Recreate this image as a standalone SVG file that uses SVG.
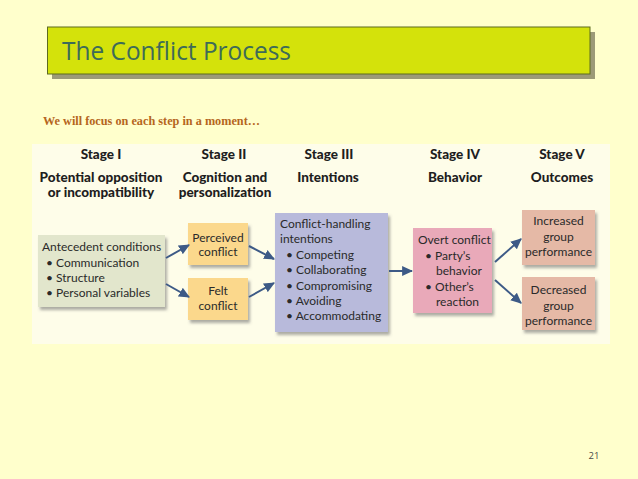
<svg xmlns="http://www.w3.org/2000/svg" width="638" height="479" viewBox="0 0 638 479">
  <defs>
    <style>
      .hdr { font-family: Lato, "Liberation Sans", sans-serif; font-weight: 900; font-size: 13.5px; fill: #1e1e1e; text-anchor: middle; }
      .txt { font-family: Lato, "Liberation Sans", sans-serif; font-weight: 400; font-size: 12px; fill: #2a2a2a; }
      .ctr { text-anchor: middle; }
      .box { filter: url(#sh); }
      .conn { stroke: #3d5a86; stroke-width: 2; fill: none; marker-end: url(#ah); }
    </style>
    <filter id="sh" x="-10%" y="-10%" width="130%" height="130%">
      <feDropShadow dx="2" dy="3" stdDeviation="1.6" flood-color="#6a6a6a" flood-opacity="0.55"/>
    </filter>
    <marker id="ah" viewBox="0 0 10 10" refX="9" refY="5" markerWidth="5.5" markerHeight="5.5" orient="auto" markerUnits="strokeWidth">
      <path d="M0,0.5 L10,5 L0,9.5 z" fill="#3d5a86"/>
    </marker>
  </defs>

  <rect x="0" y="0" width="638" height="479" fill="#ffffcc"/>

  <g id="title">
    <rect x="52" y="32" width="543" height="47" fill="#9c9a78"/>
    <rect x="47.5" y="27" width="542.5" height="47" fill="#d4e20b" stroke="#5d6a1f" stroke-width="1"/>
    <text x="62" y="60" font-family="'Open Sans', 'Noto Sans', sans-serif" font-size="25" fill="#3d6b58" textLength="229" lengthAdjust="spacingAndGlyphs">The Conflict Process</text>
  </g>

  <text id="subtitle" x="43" y="125" font-family="'Liberation Serif', serif" font-weight="700" font-size="11.5" fill="#b5661d" textLength="217" lengthAdjust="spacingAndGlyphs">We will focus on each step in a moment…</text>

  <rect id="panel" x="32" y="144" width="578" height="200" fill="#fefde9"/>

  <g id="headers">
    <text class="hdr" x="101" y="159">Stage I</text>
    <text class="hdr" x="101" y="182">Potential opposition</text>
    <text class="hdr" x="101" y="197">or incompatibility</text>
    <text class="hdr" x="224" y="159">Stage II</text>
    <text class="hdr" x="225" y="182">Cognition and</text>
    <text class="hdr" x="225" y="197">personalization</text>
    <text class="hdr" x="329" y="159">Stage III</text>
    <text class="hdr" x="328" y="182">Intentions</text>
    <text class="hdr" x="455" y="159">Stage IV</text>
    <text class="hdr" x="455" y="182">Behavior</text>
    <text class="hdr" x="562" y="159">Stage V</text>
    <text class="hdr" x="562" y="182">Outcomes</text>
  </g>

  <g id="antecedent">
    <rect class="box" x="38" y="235" width="127" height="72" fill="#e2e6cc"/>
    <text class="txt" x="42" y="251">Antecedent conditions</text>
    <text class="txt" x="46" y="266.5">• Communication</text>
    <text class="txt" x="46" y="281.5">• Structure</text>
    <text class="txt" x="46" y="297">• Personal variables</text>
  </g>

  <g id="perceived">
    <rect class="box" x="188" y="223" width="60" height="42" fill="#fbd88c"/>
    <text class="txt ctr" x="218" y="241.5">Perceived</text>
    <text class="txt ctr" x="218" y="256">conflict</text>
  </g>

  <g id="felt">
    <rect class="box" x="188" y="278" width="60" height="42" fill="#fbd88c"/>
    <text class="txt ctr" x="218" y="295">Felt</text>
    <text class="txt ctr" x="218" y="310">conflict</text>
  </g>

  <g id="intentions">
    <rect class="box" x="275" y="213" width="113" height="119" fill="#b8badb"/>
    <text class="txt" x="280" y="227.5">Conflict-handling</text>
    <text class="txt" x="280" y="242.5">intentions</text>
    <text class="txt" x="286" y="258.5">• Competing</text>
    <text class="txt" x="286" y="274">• Collaborating</text>
    <text class="txt" x="286" y="289.5">• Compromising</text>
    <text class="txt" x="286" y="304.5">• Avoiding</text>
    <text class="txt" x="286" y="320">• Accommodating</text>
  </g>

  <g id="overt">
    <rect class="box" x="413" y="228" width="79" height="85" fill="#e9a9b9"/>
    <text class="txt" x="418" y="243.5">Overt conflict</text>
    <text class="txt" x="425" y="259.5">• Party’s</text>
    <text class="txt" x="436" y="275">behavior</text>
    <text class="txt" x="425" y="290.5">• Other’s</text>
    <text class="txt" x="436" y="306">reaction</text>
  </g>

  <g id="increased">
    <rect class="box" x="522" y="210" width="73" height="55" fill="#e5b9a6"/>
    <text class="txt ctr" x="558.5" y="225">Increased</text>
    <text class="txt ctr" x="558.5" y="240.5">group</text>
    <text class="txt ctr" x="558.5" y="256">performance</text>
  </g>

  <g id="decreased">
    <rect class="box" x="522" y="277" width="73" height="53" fill="#e5b9a6"/>
    <text class="txt ctr" x="558.5" y="293.5">Decreased</text>
    <text class="txt ctr" x="558.5" y="309.5">group</text>
    <text class="txt ctr" x="558.5" y="325">performance</text>
  </g>

  <g id="connectors">
    <line class="conn" x1="166" y1="258" x2="189" y2="245"/>
    <line class="conn" x1="166" y1="284" x2="189" y2="297"/>
    <line class="conn" x1="249" y1="246" x2="274" y2="259"/>
    <line class="conn" x1="249" y1="297" x2="274" y2="283"/>
    <line class="conn" x1="389" y1="271" x2="412" y2="271"/>
    <line class="conn" x1="495" y1="262" x2="521" y2="239"/>
    <line class="conn" x1="495" y1="280" x2="521" y2="303"/>
  </g>

  <text id="pagenum" x="594" y="459" text-anchor="middle" font-family="'Open Sans', 'Noto Sans', sans-serif" font-size="9.5" fill="#4a4a4a">21</text>
</svg>
